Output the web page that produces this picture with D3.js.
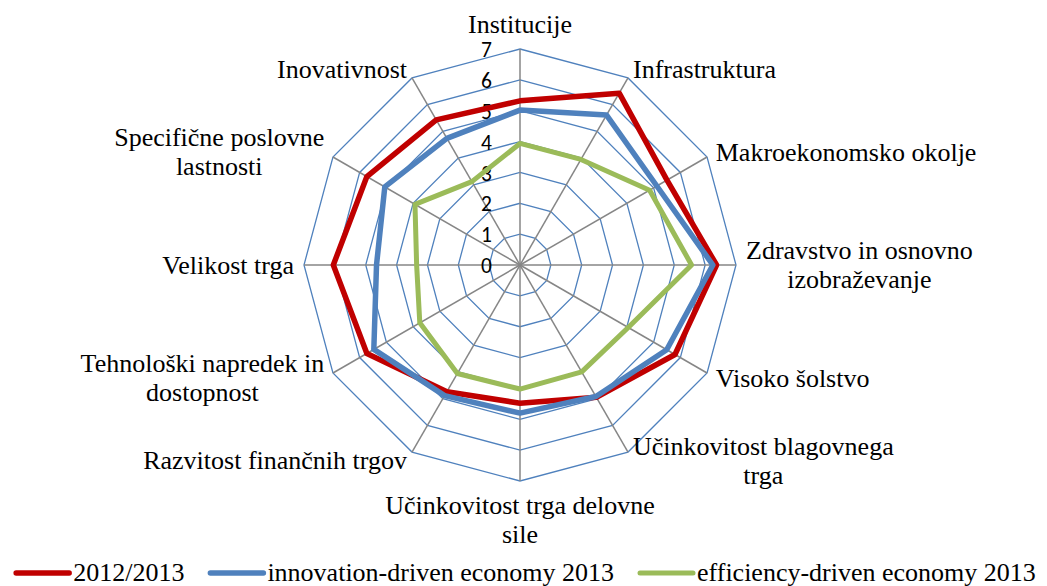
<!DOCTYPE html>
<html>
<head>
<meta charset="utf-8">
<script src="https://cdn.jsdelivr.net/npm/d3@7"></script>
<style>
  html, body { margin: 0; padding: 0; background: #fff; }
  svg { display: block; }
</style>
</head>
<body>
<svg id="chart" width="1047" height="586"></svg>
<script>
const categories = [
  "Institucije",
  "Infrastruktura",
  "Makroekonomsko okolje",
  "Zdravstvo in osnovno izobraževanje",
  "Visoko šolstvo",
  "Učinkovitost blagovnega trga",
  "Učinkovitost trga delovne sile",
  "Razvitost finančnih trgov",
  "Tehnološki napredek in dostopnost",
  "Velikost trga",
  "Specifične poslovne lastnosti",
  "Inovativnost"
];
const seriesNames = ["2012/2013", "innovation-driven economy 2013", "efficiency-driven economy 2013"];
const values2012 = [5.32, 6.43, 5.50, 6.37, 5.80, 4.95, 4.48, 4.74, 5.73, 6.05, 5.73, 5.43];
const valuesInnovation = [5.02, 5.61, 5.12, 6.25, 5.49, 4.92, 4.80, 4.89, 5.47, 4.65, 5.06, 4.74];
const valuesEfficiency = [3.94, 3.95, 4.85, 5.56, 4.05, 4.00, 4.02, 4.06, 3.75, 3.35, 3.93, 3.12];
const tickValues = [0, 1, 2, 3, 4, 5, 6, 7];
const colors = ["#C00000", "#4F81BD", "#9BBB59"];
const widths = [5.5, 5.5, 5];

const serifFont = "Liberation Serif";
const tickFont = "Carlito";

const svg = d3.select("#chart");
const cx = 520, cy = 265, R = 216;
const n = categories.length;
const rScale = d3.scaleLinear().domain([0, 7]).range([0, R]);
const aScale = d3.scaleLinear().domain([0, n]).range([0, 2 * Math.PI]);
const g = svg.append("g").attr("transform", `translate(${cx},${cy})`);
const pt = (i, v) => [Math.sin(aScale(i)) * rScale(v), -Math.cos(aScale(i)) * rScale(v)];

// rings
tickValues.filter(t => t > 0).forEach(t => {
  g.append("path")
    .attr("d", d3.line()(d3.range(n).map(i => pt(i, t))) + "Z")
    .attr("fill", "none").attr("stroke", "#4F81BD").attr("stroke-width", 1.3);
});
// spokes
d3.range(n).forEach(i => {
  const [x, y] = pt(i, 7);
  g.append("line").attr("x1", 0).attr("y1", 0).attr("x2", x).attr("y2", y)
    .attr("stroke", "#868686").attr("stroke-width", 1.5);
});

// tick labels
g.selectAll("text.tick").data(tickValues).enter().append("text")
  .attr("class", "tick")
  .attr("x", -28).attr("y", d => -rScale(d) + 3)
  .attr("text-anchor", "end").attr("dominant-baseline", "middle")
  .attr("font-family", tickFont).attr("font-size", 21.5)
  .attr("fill", "#000").text(d => d);

// series
const allSeries = [values2012, valuesInnovation, valuesEfficiency];
const radial = d3.lineRadial().angle((d, i) => aScale(i)).radius(d => rScale(d)).curve(d3.curveLinearClosed);
allSeries.forEach((vals, k) => {
  g.append("path").attr("d", radial(vals))
    .attr("fill", "none").attr("stroke", colors[k]).attr("stroke-width", widths[k])
    .attr("stroke-linejoin", "round");
});

// category labels
const fs = 26, lh = 28.8, gap = 10, maxW = 285;
const measurer = svg.append("text").attr("font-family", serifFont).attr("font-size", fs).attr("visibility", "hidden");
const measure = s => { measurer.text(s); return measurer.node().getComputedTextLength(); };
function wrap(s) {
  const words = s.split(" ");
  const lines = [];
  let cur = "";
  words.forEach(w => {
    const t = cur ? cur + " " + w : w;
    if (cur && measure(t) > maxW) { lines.push(cur); cur = w; } else cur = t;
  });
  lines.push(cur);
  return lines;
}
categories.forEach((c, i) => {
  const lines = wrap(c);
  const bw = d3.max(lines.map(measure));
  const a = aScale(i);
  const s = Math.sin(a), co = Math.cos(a);
  const px = s * (R + gap), py = -co * (R + gap);
  let bx;
  if (s > 0.01) bx = px + bw / 2; else if (s < -0.01) bx = px - bw / 2; else bx = px;
  const bh = lines.length * lh;
  let top;
  if (co > 0.99) top = py - bh; else if (co < -0.99) top = py; else top = py - bh / 2;
  const t = g.append("text").attr("font-family", serifFont).attr("font-size", fs)
    .attr("text-anchor", "middle").attr("fill", "#000");
  lines.forEach((ln, j) => {
    t.append("tspan").attr("x", bx).attr("y", top + j * lh + lh / 2 + 8.5).text(ln);
  });
});

// legend
const legend = svg.append("g");
const lineLen = 53, textGap = 4, itemGap = 26;
let x = 0;
const items = [];
seriesNames.forEach((name, k) => {
  const w = measure(name);
  items.push({ name, k, x0: x, w });
  x += lineLen + textGap + w + itemGap;
});
const totalW = x - itemGap;
const lx0 = 526 - totalW / 2;
const ly = 573;
items.forEach(it => {
  const x0 = lx0 + it.x0;
  legend.append("line").attr("x1", x0).attr("x2", x0 + lineLen).attr("y1", ly).attr("y2", ly)
    .attr("stroke", colors[it.k]).attr("stroke-width", widths[it.k]).attr("stroke-linecap", "round");
  legend.append("text").attr("x", x0 + lineLen + textGap).attr("y", ly + 8)
    .attr("font-family", serifFont).attr("font-size", fs).attr("fill", "#000").text(it.name);
});
measurer.remove();
</script>
</body>
</html>
